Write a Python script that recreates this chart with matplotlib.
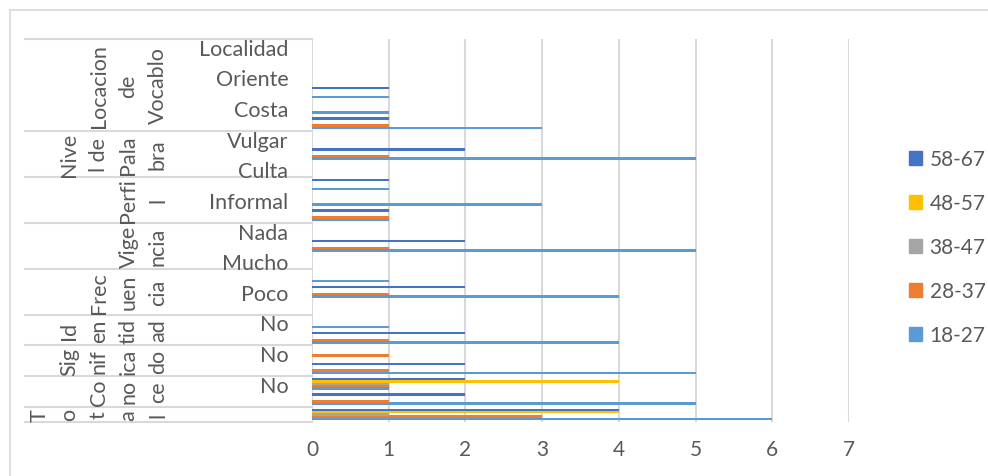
import numpy as np
import matplotlib.pyplot as plt
from matplotlib.lines import Line2D
from matplotlib.patches import Patch
import matplotlib.transforms as mtransforms

plt.rcParams['font.family'] = ['Lato', 'DejaVu Sans']

# categories from bottom to top (odd ones are hidden by the axis, like in the original)
labels = ['', '', 'No', '', 'No', '', 'No', '', 'Poco', '', 'Mucho', '', 'Nada',
          '', 'Informal', '', 'Culta', '', 'Vulgar', '', 'Costa', '', 'Oriente', '', 'Localidad']

series = ['18-27', '28-37', '38-47', '48-57', '58-67']
colors = ['#5B9BD5', '#ED7D31', '#A5A5A5', '#FFC000', '#4472C4']

v_18_27 = [6, 5, 1, 5, 0, 4, 1, 0, 4, 1, 0, 5, 0, 1, 3, 1, 0, 5, 0, 3, 1, 1, 0, 0, 0]
v_28_37 = [3, 1, 1, 1, 1, 1, 0, 0, 1, 0, 0, 1, 0, 1, 0, 0, 0, 1, 0, 1, 0, 0, 0, 0, 0]
v_38_47 = [1, 0, 1, 0, 0, 0, 0, 0, 0, 0, 0, 0, 0, 0, 0, 0, 0, 0, 0, 0, 0, 0, 0, 0, 0]
v_48_57 = [4, 0, 4, 0, 0, 0, 0, 0, 0, 0, 0, 0, 0, 0, 0, 0, 0, 0, 0, 0, 0, 0, 0, 0, 0]
v_58_67 = [4, 2, 2, 2, 0, 2, 0, 0, 2, 0, 0, 2, 0, 1, 0, 1, 0, 2, 0, 1, 0, 1, 0, 0, 0]
values = [v_18_27, v_28_37, v_38_47, v_48_57, v_58_67]

# outer groups: (first index, last index, wrapped text lines)
groups = [
    (0, 0, ['T', 'o', 't', 'a', 'l']),
    (1, 2, ['Co', 'no', 'ce']),
    (3, 4, ['Sig', 'nif', 'ica', 'do']),
    (5, 6, ['Id', 'en', 'tid', 'ad']),
    (7, 9, ['Frec', 'uen', 'cia']),
    (10, 12, ['Vige', 'ncia']),
    (13, 15, ['Perfi', 'l']),
    (16, 18, ['Nive', 'l de', 'Pala', 'bra']),
    (19, 24, ['Locacion', 'de', 'Vocablo']),
]

W, H = 988, 477
fig = plt.figure(figsize=(W / 100, H / 100), dpi=100)
ax = fig.add_axes([312 / W, 1 - 423 / H, (849 - 312) / W, (423 - 40) / H])

txt = '#595959'
grid = '#D9D9D9'

y = np.arange(len(labels))
bh = 0.16
for k, (name, vals, c) in enumerate(zip(series, values, colors)):
    ax.barh(y + (k - 2) * 0.15, vals, height=bh, color=c, label=name, zorder=3)

ax.set_xlim(0, 7)
ax.set_ylim(-0.5, len(labels) - 0.5)
ax.set_xticks(range(8))
ax.xaxis.grid(True, color=grid, lw=1.5)
for s in ax.spines.values():
    s.set_visible(False)
ax.tick_params(axis='x', length=0, pad=12, labelsize=15, labelcolor=txt)
ax.set_yticks(y)
ax.set_yticklabels(labels)
ax.tick_params(axis='y', length=0, pad=17, labelsize=15.5, labelcolor=txt)

# category separators on the left
trans = mtransforms.blended_transform_factory(ax.transAxes, ax.transData)
x0 = (25 - 312) / (849 - 312)
bounds = [g[0] - 0.5 for g in groups] + [len(labels) - 0.5]
for b in bounds:
    ax.add_line(Line2D([x0, 0], [b, b], transform=trans, color=grid, lw=1.5,
                       clip_on=False, zorder=0.5))

# outer group labels, wrapped in columns like the original
col_right = 158
for a, b, lines in groups:
    yc = (a + b) / 2
    n = len(lines)
    for j, ln in enumerate(lines):
        xp = col_right - 29.5 * (n - 1 - j)
        ax.text((xp - 312) / (849 - 312), yc, ln, transform=trans, rotation=90,
                ha='center', va='center', fontsize=15.5, color=txt)

# chart border
fig.add_artist(Line2D([10 / W, 10 / W], [0, 1 - 11 / H], transform=fig.transFigure, color=grid, lw=1.2))
fig.add_artist(Line2D([10 / W, 1], [1 - 11 / H, 1 - 11 / H], transform=fig.transFigure, color=grid, lw=1.2))

handles = [Patch(color=c) for c in colors][::-1]
fig.legend(handles, series[::-1], loc='center left', bbox_to_anchor=(890 / W, 1 - 248 / H),
           frameon=False, fontsize=15, labelcolor=txt, handlelength=0.65, handleheight=0.65,
           handletextpad=0.35, labelspacing=1.15)

fig.savefig('out.png', dpi=100)
